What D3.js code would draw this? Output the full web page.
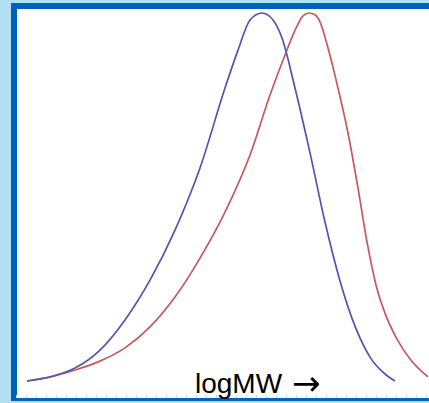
<!DOCTYPE html>
<html lang="en">
<head>
	<meta charset="UTF-8"/>
	<title>logMW distributions</title>
	<script src="https://d3js.org/d3.v7.min.js"></script>
	<style>
		body { margin: 0; background: #b2e1f5; }
		svg { display: block; }
	</style>
</head>
<body>
	<script>
	// ***Data*** (logMW on x, relative height on y)
		var blueX = [3.11, 3.34, 3.59, 3.84, 4.09, 4.34, 4.59, 4.84, 5.09, 5.22, 5.34, 5.46, 5.57, 5.66, 5.79, 5.94, 6.09, 6.24, 6.39, 6.54, 6.69, 6.79];
		var blueY = [0, 0.011, 0.035, 0.084, 0.166, 0.274, 0.410, 0.579, 0.796, 0.899, 0.981, 1.0, 0.981, 0.932, 0.796, 0.620, 0.432, 0.272, 0.149, 0.065, 0.019, 0];

		var redX = [3.11, 3.34, 3.59, 3.84, 4.09, 4.34, 4.59, 4.84, 5.09, 5.34, 5.54, 5.69, 5.80, 5.87, 5.93, 5.99, 6.04, 6.12, 6.22, 6.32, 6.42, 6.51, 6.60, 6.70, 6.81, 6.94, 7.12];
		var redY = [0, 0.011, 0.030, 0.054, 0.090, 0.147, 0.228, 0.334, 0.459, 0.614, 0.777, 0.886, 0.959, 0.992, 1.0, 0.995, 0.976, 0.905, 0.796, 0.674, 0.524, 0.378, 0.261, 0.177, 0.114, 0.060, 0.011];

		var axisLabel = "logMW";
		var arrowLabel = "\u2192";

	// ***Layout***
		var w = 429;
		var h = 403;

		var xScale = d3.scaleLinear()
					.domain([3, 7.13])
					.range([16, 429]);

		var yScale = d3.scaleLinear()
					.domain([0, 1])
					.range([381, 13]);

		var svg = d3.select("body")
					.append("svg")
					.attr("width", w)
					.attr("height", h);

		// frame: light blue page, dark blue border, white panel
		svg.append("rect")
			.attr("x", 0).attr("y", 0)
			.attr("width", w).attr("height", h)
			.attr("fill", "#b2e1f5");
		svg.append("rect")
			.attr("x", 11).attr("y", 3)
			.attr("width", w - 11).attr("height", 398)
			.attr("fill", "#0062be");
		svg.append("rect")
			.attr("x", 17).attr("y", 9)
			.attr("width", w - 17).attr("height", 389)
			.attr("fill", "#ffffff");

		// faint tick marks along the bottom
		var axis = svg.append("g")
			.attr("transform", "translate(0,398)")
			.call(d3.axisBottom(xScale).ticks(40).tickSize(-3).tickFormat(""));
		axis.select(".domain").remove();
		axis.selectAll("line").attr("stroke", "#d4d8de");

		var line = d3.line()
			.x(function(d) { return xScale(d[0]); })
			.y(function(d) { return yScale(d[1]); })
			.curve(d3.curveMonotoneX);

		var series = [
			{ pts: d3.zip(redX, redY), color: "#c45a5e" },
			{ pts: d3.zip(blueX, blueY), color: "#5454b0" }
		];

		svg.selectAll("path.curve")
			.data(series)
			.enter()
			.append("path")
			.attr("class", "curve")
			.attr("d", function(d) { return line(d.pts); })
			.attr("fill", "none")
			.attr("stroke", function(d) { return d.color; })
			.attr("stroke-width", 1.7);

		var label = svg.append("text")
			.attr("x", 195)
			.attr("y", 393)
			.attr("font-family", "'Liberation Sans', Arial, sans-serif")
			.attr("font-size", 28)
			.attr("fill", "#000");
		label.append("tspan").text(axisLabel);
		label.append("tspan")
			.attr("x", 292)
			.attr("dy", 2)
			.attr("font-family", "'DejaVu Sans', sans-serif")
			.attr("font-size", 34)
			.text(arrowLabel);
	</script>
</body>
</html>
